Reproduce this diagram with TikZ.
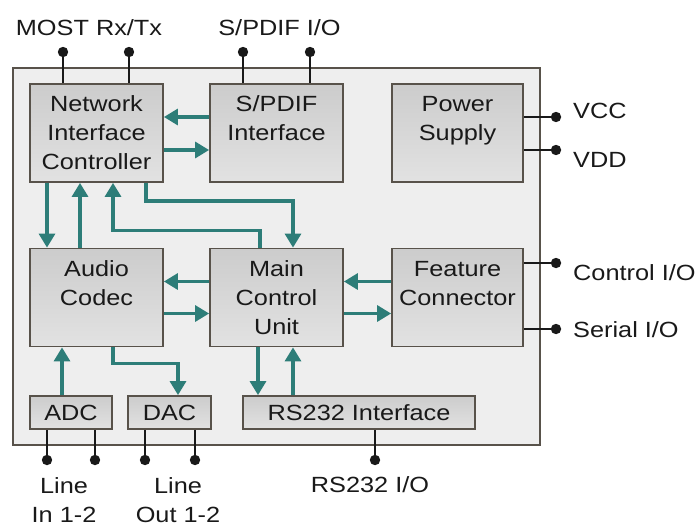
\documentclass[tikz,border=0pt]{standalone}
\usepackage{fontspec}
\setmainfont{Liberation Sans}[FakeStretch=1.15]
\usetikzlibrary{arrows.meta, positioning}
\definecolor{flowteal}{RGB}{45,125,120}
\definecolor{edgegray}{RGB}{88,82,74}
\definecolor{panelgray}{RGB}{238,238,238}
\definecolor{blocktop}{RGB}{204,204,204}
\definecolor{blockbot}{RGB}{226,226,226}
\definecolor{textgray}{RGB}{25,25,25}

\begin{document}
\begin{tikzpicture}[x=1pt, y=-1pt, inner sep=0pt,
	every node/.style={font=\fontsize{22}{29}\selectfont, text=textgray},
	block/.style={draw=edgegray, line width=1.8pt, top color=blocktop, bottom color=blockbot, minimum width=133pt, minimum height=98pt, align=center},
	smallblock/.style={block, minimum height=33pt},
	flow/.style={draw=flowteal, line width=3.2pt, -{Triangle[width=16pt,length=14pt]}},
	wire/.style={draw=textgray, line width=2.6pt},
	tag/.style={align=center}]
		\useasboundingbox (0,0) rectangle (700,527);
		\draw[draw=edgegray, line width=1.8pt, fill=panelgray] (13,68) rectangle (540,445);

		\node[block] (nic) at (96.5,133) {Network\\Interface\\Controller};
		\node[block] (spdif) at (276.5,133) {S/PDIF\\Interface\\~};
		\node[block, minimum width=131pt] (power) at (457.5,133) {Power\\Supply\\~};
		\node[block] (codec) at (96.5,297.5) {Audio\\Codec\\~};
		\node[block] (mcu) at (276.5,297.5) {Main\\Control\\Unit};
		\node[block, minimum width=131pt] (feat) at (457.5,297.5) {Feature\\Connector\\~};
		\node[smallblock, minimum width=82pt] (adc) at (71,412.5) {ADC};
		\node[smallblock, minimum width=83pt] (dac) at (169.5,412.5) {DAC};
		\node[smallblock, minimum width=232pt] (rs) at (359,412.5) {RS232 Interface};

		\draw[flow] ([yshift=16pt]spdif.west) -- ([yshift=16pt]nic.east);
		\draw[flow] ([yshift=-17pt]nic.east) -- ([yshift=-17pt]spdif.west);
		\draw[flow] ([xshift=-49.5pt]nic.south) -- ([xshift=-49.5pt]codec.north);
		\draw[flow] ([xshift=-16.5pt]codec.north) -- ([xshift=-16.5pt]nic.south);
		\draw[flow] ([xshift=-16.5pt]mcu.north) -- ++(0,-17) -| ([xshift=16.5pt]nic.south);
		\draw[flow] ([xshift=49.5pt]nic.south) -- ++(0,18) -| ([xshift=16.5pt]mcu.north);
		\draw[flow] ([yshift=16pt]mcu.west) -- ([yshift=16pt]codec.east);
		\draw[flow] ([yshift=-16pt]codec.east) -- ([yshift=-16pt]mcu.west);
		\draw[flow] ([yshift=16pt]feat.west) -- ([yshift=16pt]mcu.east);
		\draw[flow] ([yshift=-16pt]mcu.east) -- ([yshift=-16pt]feat.west);
		\draw[flow] ([xshift=-9pt]adc.north) -- ([xshift=-34.5pt]codec.south);
		\draw[flow] ([xshift=16.5pt]codec.south) -- ++(0,16) -| ([xshift=8.5pt]dac.north);
		\draw[flow] ([xshift=-18.5pt]mcu.south) -- ([xshift=-101pt]rs.north);
		\draw[flow] ([xshift=-66pt]rs.north) -- ([xshift=16.5pt]mcu.south);

		\coordinate (most1) at (63,52);
		\coordinate (most2) at (129,52);
		\coordinate (spd1) at (243,52);
		\coordinate (spd2) at (310,52);
		\coordinate (vcc) at (556,117);
		\coordinate (vdd) at (556,150);
		\coordinate (ctrl) at (556,263);
		\coordinate (ser) at (556,329);
		\coordinate (lin1) at (47,460);
		\coordinate (lin2) at (95,460);
		\coordinate (lout1) at (145,460);
		\coordinate (lout2) at (195,460);
		\coordinate (rsio) at (375,460);

		\draw[wire] ([xshift=-33.5pt]nic.north) -- (most1);
		\draw[wire] ([xshift=32.5pt]nic.north) -- (most2);
		\draw[wire] ([xshift=-33.5pt]spdif.north) -- (spd1);
		\draw[wire] ([xshift=33.5pt]spdif.north) -- (spd2);
		\draw[wire] ([yshift=16pt]power.east) -- (vcc);
		\draw[wire] ([yshift=-17pt]power.east) -- (vdd);
		\draw[wire] ([yshift=34.5pt]feat.east) -- (ctrl);
		\draw[wire] ([yshift=-31.5pt]feat.east) -- (ser);
		\draw[wire] ([xshift=-24pt]adc.south) -- (lin1);
		\draw[wire] ([xshift=24pt]adc.south) -- (lin2);
		\draw[wire] ([xshift=-24.5pt]dac.south) -- (lout1);
		\draw[wire] ([xshift=25.5pt]dac.south) -- (lout2);
		\draw[wire] ([xshift=16pt]rs.south) -- (rsio);
		\foreach \p in {most1,most2,spd1,spd2,vcc,vdd,ctrl,ser,lin1,lin2,lout1,lout2,rsio}
			\fill[textgray] (\p) circle (5.2pt);

		\node[anchor=base] (mostlbl) at (89,35) {MOST Rx/Tx};
		\node[anchor=base] (spdlbl) at (279.5,35) {S/PDIF I/O};
		\node[anchor=base west] (vcclbl) at (573,118) {VCC};
		\node[anchor=base west] (vddlbl) at (573,167) {VDD};
		\node[anchor=base west] (ctrllbl) at (573,280) {Control I/O};
		\node[anchor=base west] (serlbl) at (573,337) {Serial I/O};
		\node[tag, anchor=north] (inlbl) at (64,477) {Line\\In 1-2};
		\node[tag, anchor=north] (outlbl) at (178,477) {Line\\Out 1-2};
		\node[anchor=base] (rslbl) at (370,492) {RS232 I/O};
	\end{tikzpicture}
\end{document}
